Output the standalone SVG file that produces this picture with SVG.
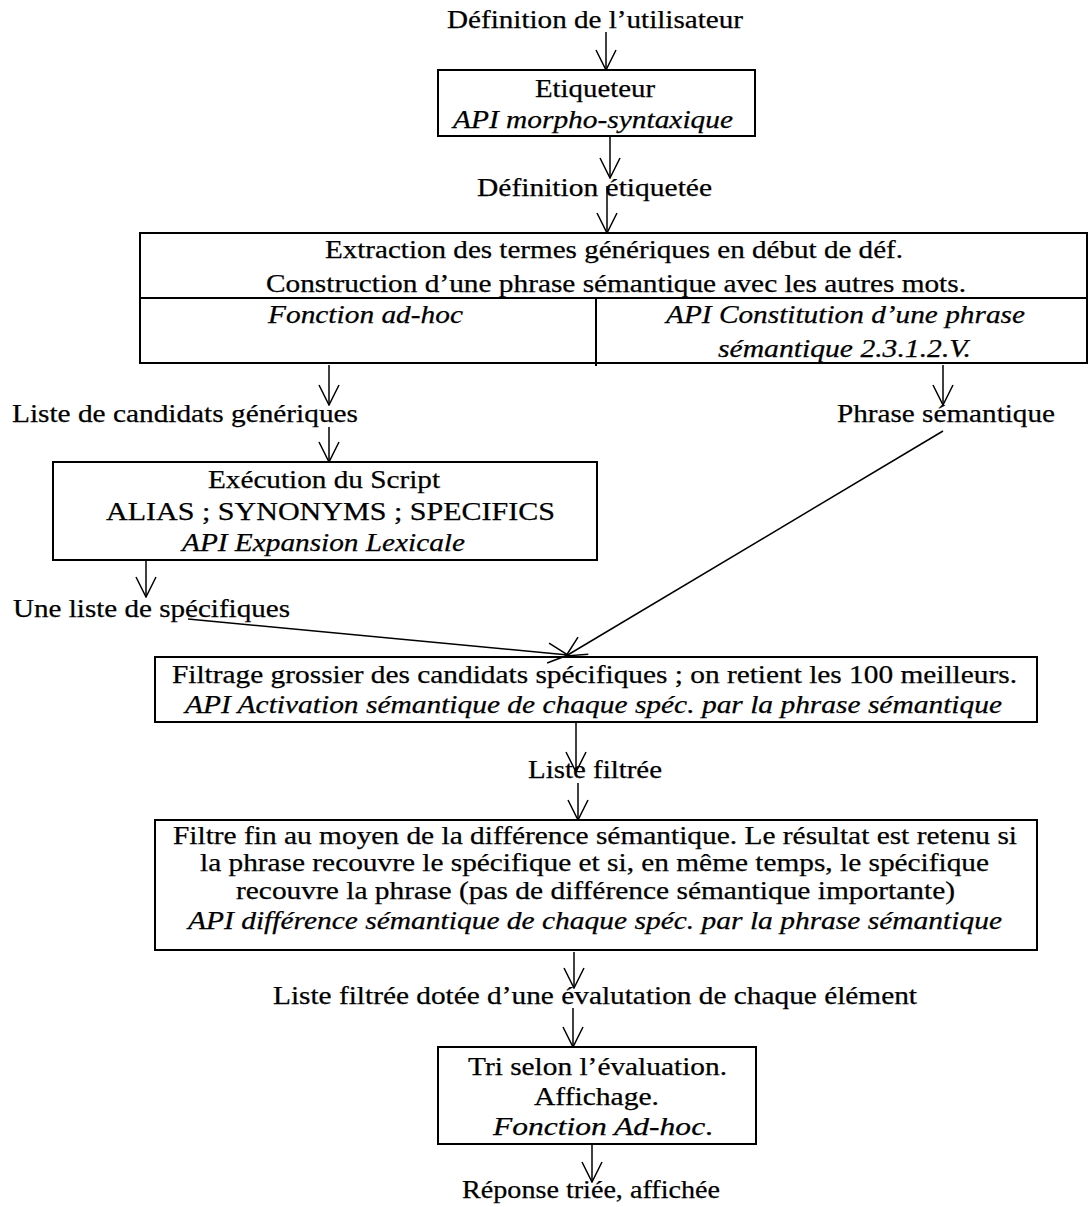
<svg xmlns="http://www.w3.org/2000/svg" width="1088" height="1207" viewBox="0 0 1088 1207">
  <style>
    .box { fill: #fff; stroke: #000; stroke-width: 2; }
    .rule { fill: none; stroke: #000; stroke-width: 2; }
    .conn { fill: none; stroke: #000; stroke-width: 1.5; marker-end: url(#v); }
    text { font-family: "Liberation Serif", Tinos, "Times New Roman", Times, serif; font-size: 25px; fill: #000; stroke: #000; stroke-width: 0.25; }
    .it { font-style: italic; }
    .up { font-style: normal; }
  </style>
  <defs>
    <!-- open V arrowhead -->
    <marker id="v" markerUnits="userSpaceOnUse" viewBox="0 0 22 22" refX="21" refY="11" markerWidth="22" markerHeight="22" orient="auto">
      <path d="M1,1 L21,11 L1,21" fill="none" stroke="#000" stroke-width="1.5"/>
    </marker>
  </defs>

  <rect width="1088" height="1207" fill="#fff"/>

  <!-- free-standing labels between steps -->
  <g id="labels">
    <text x="447" y="28" textLength="296" lengthAdjust="spacingAndGlyphs">Définition de l’utilisateur</text>
    <text x="477" y="196" textLength="235" lengthAdjust="spacingAndGlyphs">Définition étiquetée</text>
    <text x="12" y="422" textLength="346" lengthAdjust="spacingAndGlyphs">Liste de candidats génériques</text>
    <text x="837" y="422" textLength="218" lengthAdjust="spacingAndGlyphs">Phrase sémantique</text>
    <text x="13" y="617" textLength="277" lengthAdjust="spacingAndGlyphs">Une liste de spécifiques</text>
    <text x="528" y="778" textLength="134" lengthAdjust="spacingAndGlyphs">Liste filtrée</text>
    <text x="273" y="1004" textLength="644" lengthAdjust="spacingAndGlyphs">Liste filtrée dotée d’une évalutation de chaque élément</text>
    <text x="462" y="1198" textLength="258" lengthAdjust="spacingAndGlyphs">Réponse triée, affichée</text>
  </g>

  <!-- tagger -->
  <g id="etiqueteur">
    <rect class="box" x="438" y="70" width="317" height="66"/>
    <text x="535" y="97" textLength="120" lengthAdjust="spacingAndGlyphs">Etiqueteur</text>
    <text class="it" x="453" y="128" textLength="280" lengthAdjust="spacingAndGlyphs">API morpho-syntaxique</text>
  </g>

  <!-- extraction / construction, split in two cells below -->
  <g id="extraction">
    <rect class="box" x="140" y="233" width="947" height="130"/>
    <line class="rule" x1="140" y1="298" x2="1087" y2="298"/>
    <line class="rule" x1="596" y1="298" x2="596" y2="366"/>
    <text x="325" y="258" textLength="578" lengthAdjust="spacingAndGlyphs">Extraction des termes génériques en début de déf.</text>
    <text x="266" y="292" textLength="700" lengthAdjust="spacingAndGlyphs">Construction d’une phrase sémantique avec les autres mots.</text>
    <text class="it" x="268" y="323" textLength="195" lengthAdjust="spacingAndGlyphs">Fonction ad-hoc</text>
    <text class="it" x="666" y="323" textLength="359" lengthAdjust="spacingAndGlyphs">API Constitution d’une phrase</text>
    <text class="it" x="718" y="357" textLength="253" lengthAdjust="spacingAndGlyphs">sémantique 2.3.1.2.V.</text>
  </g>

  <!-- script execution -->
  <g id="execution">
    <rect class="box" x="53" y="462" width="544" height="98"/>
    <text x="208" y="488" textLength="232" lengthAdjust="spacingAndGlyphs">Exécution du Script</text>
    <text x="106" y="520" textLength="449" lengthAdjust="spacingAndGlyphs">ALIAS ; SYNONYMS ; SPECIFICS</text>
    <text class="it" x="182" y="551" textLength="283" lengthAdjust="spacingAndGlyphs">API Expansion Lexicale</text>
  </g>

  <!-- coarse filter -->
  <g id="filtrage">
    <rect class="box" x="155" y="657" width="882" height="65"/>
    <text x="172" y="683" textLength="845" lengthAdjust="spacingAndGlyphs">Filtrage grossier des candidats spécifiques ; on retient les 100 meilleurs.</text>
    <text class="it" x="185" y="713" textLength="817" lengthAdjust="spacingAndGlyphs">API Activation sémantique de chaque spéc. par la phrase sémantique</text>
  </g>

  <!-- fine filter -->
  <g id="filtre-fin">
    <rect class="box" x="155" y="820" width="882" height="130"/>
    <text x="173" y="844" textLength="844" lengthAdjust="spacingAndGlyphs">Filtre fin au moyen de la différence sémantique. Le résultat est retenu si</text>
    <text x="200" y="871" textLength="789" lengthAdjust="spacingAndGlyphs">la phrase recouvre le spécifique et si, en même temps, le spécifique</text>
    <text x="236" y="899" textLength="719" lengthAdjust="spacingAndGlyphs">recouvre la phrase (pas de différence sémantique importante)</text>
    <text class="it" x="188" y="929" textLength="814" lengthAdjust="spacingAndGlyphs">API différence sémantique de chaque spéc. par la phrase sémantique</text>
  </g>

  <!-- sort and display -->
  <g id="tri">
    <rect class="box" x="438" y="1047" width="318" height="97"/>
    <text x="468" y="1075" textLength="259" lengthAdjust="spacingAndGlyphs">Tri selon l’évaluation.</text>
    <text x="534" y="1105" textLength="125" lengthAdjust="spacingAndGlyphs">Affichage.</text>
    <text class="it" x="493" y="1135" textLength="220" lengthAdjust="spacingAndGlyphs">Fonction Ad-hoc<tspan class="up">.</tspan></text>
  </g>

  <!-- connectors -->
  <g id="connectors">
    <line class="conn" x1="606" y1="32" x2="606" y2="70"/>
    <line class="conn" x1="610" y1="136" x2="610" y2="178"/>
    <line class="conn" x1="607" y1="186" x2="607" y2="233"/>
    <line class="conn" x1="329" y1="365" x2="329" y2="405"/>
    <line class="conn" x1="943" y1="365" x2="943" y2="405"/>
    <line class="conn" x1="329" y1="427" x2="329" y2="462"/>
    <line class="conn" x1="146" y1="560" x2="146" y2="597"/>
    <line class="conn" x1="188" y1="619" x2="568" y2="655"/>
    <line class="conn" x1="943" y1="431" x2="566" y2="656"/>
    <line class="conn" x1="576" y1="722" x2="576" y2="772"/>
    <line class="conn" x1="578" y1="783" x2="578" y2="820"/>
    <line class="conn" x1="574" y1="952" x2="574" y2="988"/>
    <line class="conn" x1="573" y1="1008" x2="573" y2="1047"/>
    <line class="conn" x1="592" y1="1144" x2="592" y2="1182"/>
  </g>
</svg>
